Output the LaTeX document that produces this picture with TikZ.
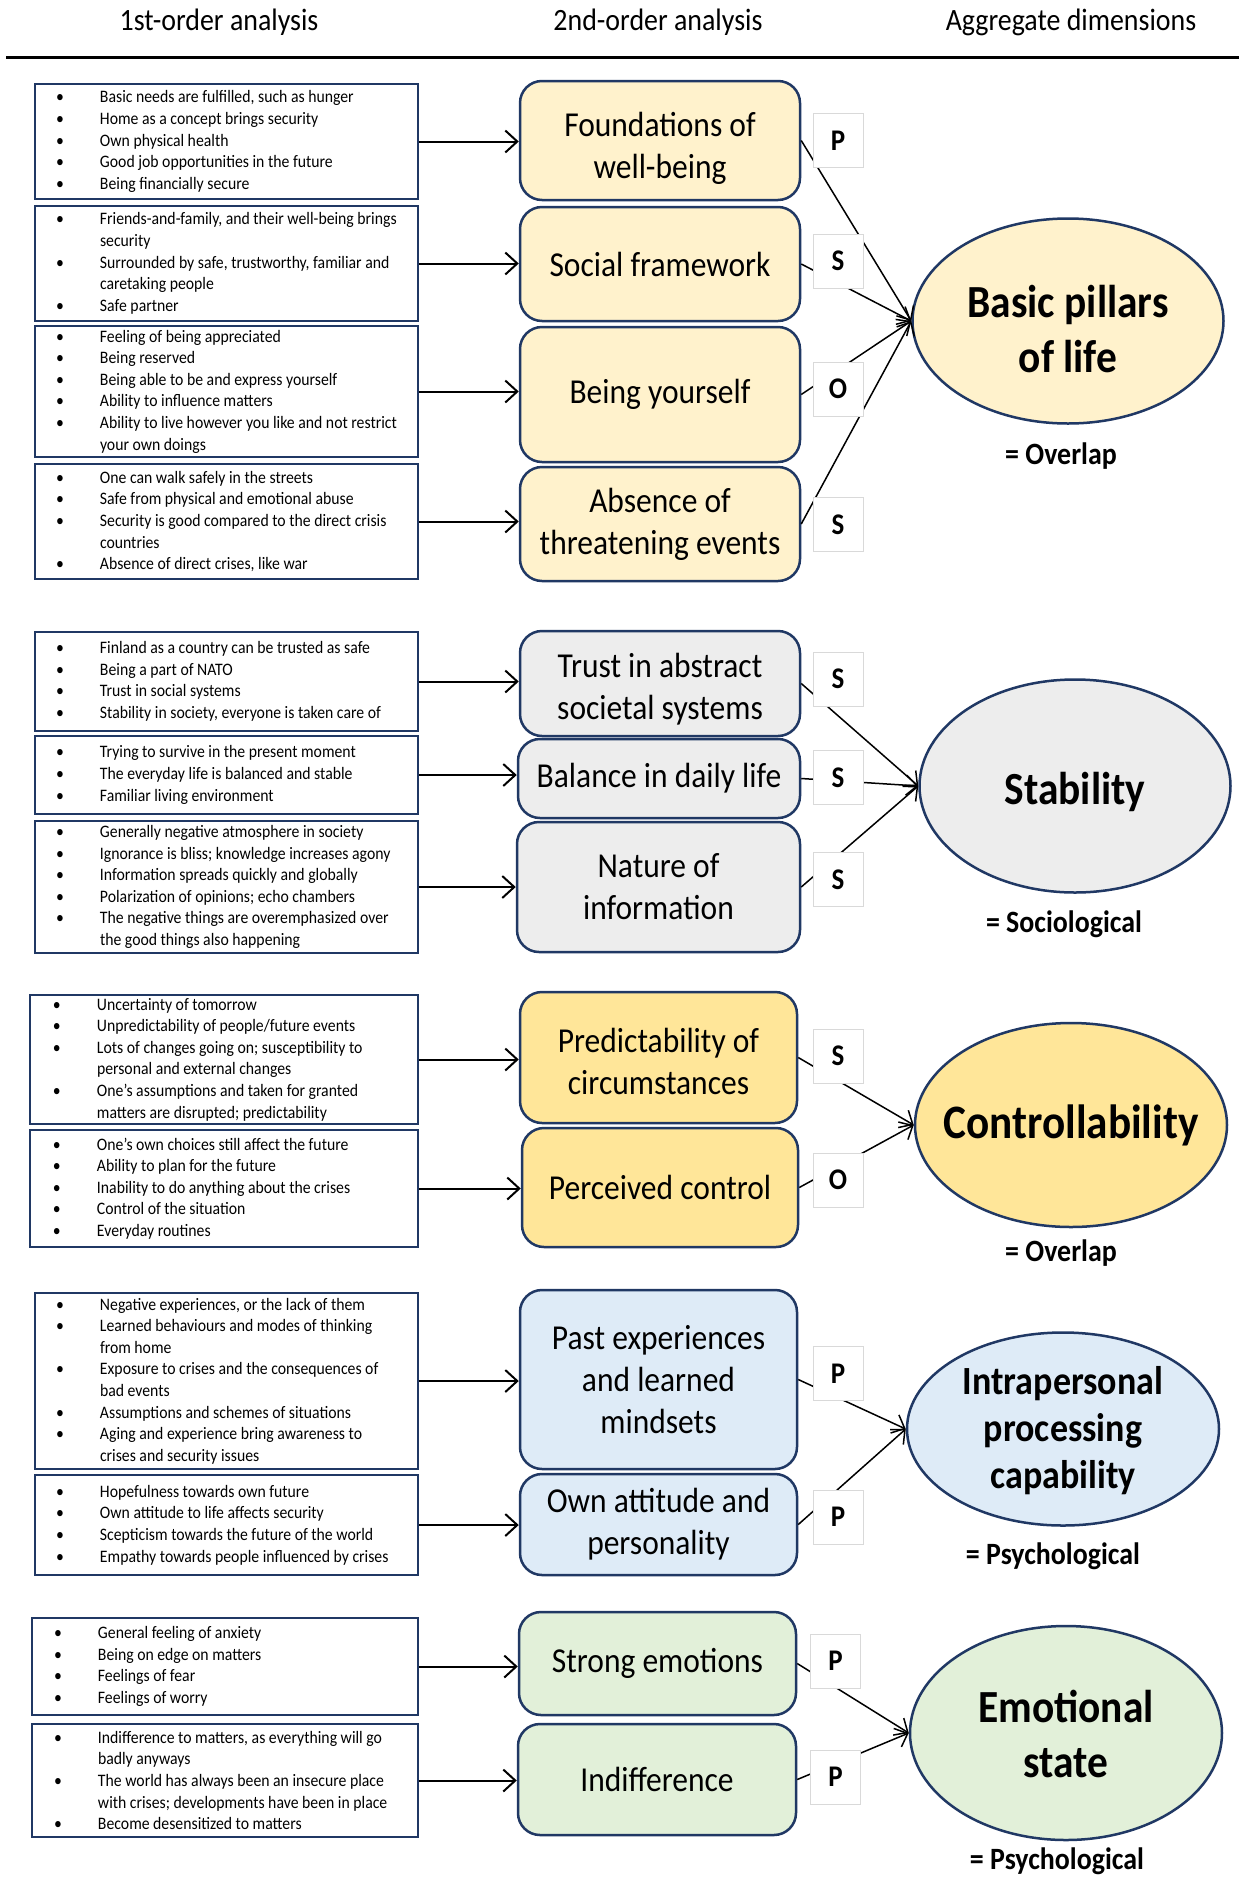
\documentclass[tikz,border=0pt]{standalone}
\usepackage{fontspec}
\setmainfont[FakeStretch=0.9]{Carlito}
\usetikzlibrary{arrows.meta,shapes.geometric}

\definecolor{navy}{HTML}{203864}
\definecolor{lettline}{HTML}{D9D9D9}
\definecolor{cbasic}{HTML}{FFF2CC}
\definecolor{cstab}{HTML}{EDEDED}
\definecolor{cctrl}{HTML}{FFE699}
\definecolor{cintra}{HTML}{DEEBF7}
\definecolor{cemo}{HTML}{E2F0D9}

% one bulleted entry of a first-order list (continuation lines hang under the text)
\newcommand\bi[1]{\par\noindent\hangindent=44pt\hangafter=1\makebox[44pt][l]{\textbullet}#1\par}
% a first-order list: left padding, width, entries
\newcommand\blist[3]{\hspace*{#1}\begin{minipage}{#2}\fontsize{17.5}{21.6}\selectfont\raggedright #3\end{minipage}}

\tikzset{
  lbox/.style={draw=navy, line width=2.5pt, fill=white, inner sep=0pt},
  mbox/.style={draw=navy, line width=2.5pt, rounded corners=22pt, align=center,
               inner sep=0pt, font=\fontsize{35}{42}\selectfont},
  mtext/.style={align=center, inner sep=0pt, font=\fontsize{35}{42}\selectfont},
  lettbox/.style={draw=lettline, line width=1pt, fill=white, inner sep=0pt,
                  minimum width=50pt, minimum height=54pt,
                  font=\bfseries\fontsize{30}{34}\selectfont},
  dimension/.style={ellipse, draw=navy, line width=2.5pt, inner sep=0pt},
  dimtext/.style={align=center, inner sep=0pt, font=\bfseries\fontsize{46}{55}\selectfont},
  feed/.style={-{Straight Barb[length=12pt,width=22pt]}, line width=2pt},
  joinline/.style={-{Straight Barb[length=11pt,width=20pt]}, line width=1.5pt},
  lab/.style={font=\bfseries\fontsize{31}{37}\selectfont, inner sep=0pt},
  head/.style={font=\fontsize{31}{37}\selectfont, inner sep=0pt},
}

\begin{document}
\begin{tikzpicture}[x=1pt, y=-1pt]
\fill[white] (0,0) rectangle (1239,1877);
\useasboundingbox (0,0) rectangle (1239,1877);

% column headings
\node[head] (h1) at (219,22) {1st-order analysis};
\node[head] (h2) at (658,22) {2nd-order analysis};
\node[head] (h3) at (1071,22) {Aggregate dimensions};
\coordinate (ruleL) at (6,57.5);
\coordinate (ruleR) at (1239,57.5);
\draw[line width=2.5pt] (ruleL) -- (ruleR);

% ---------------- Basic pillars of life ----------------
\node[lbox, minimum width=383pt, minimum height=115pt] (a1) at (226.5,141.5) {\blist{21pt}{362pt}{%
  \bi{Basic needs are fulfilled, such as hunger}
  \bi{Home as a concept brings security}
  \bi{Own physical health}
  \bi{Good job opportunities in the future}
  \bi{Being financially secure}}};
\node[lbox, minimum width=383pt, minimum height=115pt] (a2) at (226.5,263.5) {\blist{21pt}{362pt}{%
  \bi{Friends-and-family, and their well-being brings\newline security}
  \bi{Surrounded by safe, trustworthy, familiar and\newline caretaking people}
  \bi{Safe partner}}};
\node[lbox, minimum width=383pt, minimum height=131pt] (a3) at (226.5,391.5) {\blist{21pt}{362pt}{%
  \bi{Feeling of being appreciated}
  \bi{Being reserved}
  \bi{Being able to be and express yourself}
  \bi{Ability to influence matters}
  \bi{Ability to live however you like and not restrict\newline your own doings}}};
\node[lbox, minimum width=383pt, minimum height=115pt] (a4) at (226.5,521.5) {\blist{21pt}{362pt}{%
  \bi{One can walk safely in the streets}
  \bi{Safe from physical and emotional abuse}
  \bi{Security is good compared to the direct crisis\newline countries}
  \bi{Absence of direct crises, like war}}};

\node[mbox, fill=cbasic, minimum width=280pt, minimum height=119pt] (ma1) at (660,140.5) {};
\node[mtext] (ma1t) at (660,148.5) {Foundations of\\well-being};
\node[mbox, fill=cbasic, minimum width=280pt, minimum height=114pt] (ma2) at (660,264) {Social framework};
\node[mbox, fill=cbasic, minimum width=280pt, minimum height=135pt] (ma3) at (660,394.5) {Being yourself};
\node[mbox, fill=cbasic, minimum width=280pt, minimum height=114pt] (ma4) at (660,524) {Absence of\\threatening events};

\node[dimension, fill=cbasic, minimum width=311pt, minimum height=205pt] (ea) at (1068,321) {};
\node[dimtext] (eat) at (1068,329) {Basic pillars\\of life};
\node[lab] (la) at (1061,456) {= Overlap};

\foreach \i in {1,...,4} \draw[feed] (a\i.east) -- (a\i.east -| ma\i.west);
\foreach \i in {1,...,4} \draw[joinline] (ma\i.east) -- (ea.west);

\node[lettbox] (ka1) at (838,140.5) {P};
\node[lettbox] (ka2) at (838,261) {S};
\node[lettbox] (ka3) at (838,389) {O};
\node[lettbox] (ka4) at (838,524.5) {S};

% ---------------- Stability ----------------
\node[lbox, minimum width=383pt, minimum height=99pt] (b1) at (226.5,681.5) {\blist{21pt}{362pt}{%
  \bi{Finland as a country can be trusted as safe}
  \bi{Being a part of NATO}
  \bi{Trust in social systems}
  \bi{Stability in society, everyone is taken care of}}};
\node[lbox, minimum width=383pt, minimum height=78pt] (b2) at (226.5,775) {\blist{21pt}{362pt}{%
  \bi{Trying to survive in the present moment}
  \bi{The everyday life is balanced and stable}
  \bi{Familiar living environment}}};
\node[lbox, minimum width=383pt, minimum height=132pt] (b3) at (226.5,887) {\blist{21pt}{362pt}{%
  \bi{Generally negative atmosphere in society}
  \bi{Ignorance is bliss; knowledge increases agony}
  \bi{Information spreads quickly and globally}
  \bi{Polarization of opinions; echo chambers}
  \bi{The negative things are overemphasized over\newline the good things also happening}}};

\node[mbox, fill=cstab, minimum width=280pt, minimum height=105pt] (mb1) at (660,683.5) {};
\node[mtext] (mb1t) at (660,689.5) {Trust in abstract\\societal systems};
\node[mbox, fill=cstab, minimum width=282pt, minimum height=79pt] (mb2) at (659,778.5) {Balance in daily life};
\node[mbox, fill=cstab, minimum width=283pt, minimum height=130pt] (mb3) at (658.5,887) {Nature of\\information};

\node[dimension, fill=cstab, minimum width=311pt, minimum height=213pt] (eb) at (1075,786) {};
\node[dimtext] (ebt) at (1075,792) {Stability};
\node[lab] (lb) at (1064,924) {= Sociological};

\foreach \i in {1,...,3} \draw[feed] (b\i.east) -- (b\i.east -| mb\i.west);
\foreach \i in {1,...,3} \draw[joinline] (mb\i.east) -- (eb.west);

\node[lettbox] (kb1) at (838,679) {S};
\node[lettbox] (kb2) at (838,777.5) {S};
\node[lettbox] (kb3) at (838,879.5) {S};

% ---------------- Controllability ----------------
\node[lbox, minimum width=388pt, minimum height=129pt] (c1) at (224,1059.5) {\blist{23pt}{365pt}{%
  \bi{Uncertainty of tomorrow}
  \bi{Unpredictability of people/future events}
  \bi{Lots of changes going on; susceptibility to\newline personal and external changes}
  \bi{One’s assumptions and taken for granted\newline matters are disrupted; predictability}}};
\node[lbox, minimum width=388pt, minimum height=117pt] (c2) at (224,1188.5) {\blist{23pt}{365pt}{%
  \bi{One’s own choices still affect the future}
  \bi{Ability to plan for the future}
  \bi{Inability to do anything about the crises}
  \bi{Control of the situation}
  \bi{Everyday routines}}};

\node[mbox, fill=cctrl, minimum width=277pt, minimum height=131pt] (mc1) at (658.5,1057.5) {};
\node[mtext] (mc1t) at (658.5,1061.5) {Predictability of\\circumstances};
\node[mbox, fill=cctrl, minimum width=276pt, minimum height=119pt] (mc2) at (660,1187.5) {Perceived control};

\node[dimension, fill=cctrl, minimum width=312pt, minimum height=204pt] (ec) at (1071,1125) {};
\node[dimtext, font=\bfseries\fontsize{48}{55}\selectfont] (ect) at (1071,1125) {Controllability};
\node[lab] (lc) at (1061,1253) {= Overlap};

\foreach \i in {1,2} \draw[feed] (c\i.east) -- (c\i.east -| mc\i.west);
\foreach \i in {1,2} \draw[joinline] (mc\i.east) -- (ec.west);

\node[lettbox] (kc1) at (838,1056) {S};
\node[lettbox] (kc2) at (838,1180) {O};

% ---------------- Intrapersonal processing capability ----------------
\node[lbox, minimum width=383pt, minimum height=176pt] (d1) at (226.5,1381) {\blist{21pt}{362pt}{%
  \bi{Negative experiences, or the lack of them}
  \bi{Learned behaviours and modes of thinking\newline from home}
  \bi{Exposure to crises and the consequences of\newline bad events}
  \bi{Assumptions and schemes of situations}
  \bi{Aging and experience bring awareness to\newline crises and security issues}}};
\node[lbox, minimum width=383pt, minimum height=100pt] (d2) at (226.5,1525) {\blist{21pt}{362pt}{%
  \bi{Hopefulness towards own future}
  \bi{Own attitude to life affects security}
  \bi{Scepticism towards the future of the world}
  \bi{Empathy towards people influenced by crises}}};

\node[mbox, fill=cintra, minimum width=277pt, minimum height=179pt] (md1) at (658.5,1379.5) {Past experiences\\and learned\\mindsets};
\node[mbox, fill=cintra, minimum width=277pt, minimum height=101pt] (md2) at (658.5,1524.5) {Own attitude and\\personality};

\node[dimension, fill=cintra, minimum width=312pt, minimum height=193pt] (ed) at (1063,1429) {};
\node[dimtext, font=\bfseries\fontsize{40}{47}\selectfont] (edt) at (1063,1431) {Intrapersonal\\processing\\capability};
\node[lab] (ld) at (1053,1556) {= Psychological};

\foreach \i in {1,2} \draw[feed] (d\i.east) -- (d\i.east -| md\i.west);
\foreach \i in {1,2} \draw[joinline] (md\i.east) -- (ed.west);

\node[lettbox] (kd1) at (838,1373.5) {P};
\node[lettbox] (kd2) at (838,1517) {P};

% ---------------- Emotional state ----------------
\node[lbox, minimum width=386pt, minimum height=97pt] (e1) at (225,1666.5) {\blist{22pt}{364pt}{%
  \bi{General feeling of anxiety}
  \bi{Being on edge on matters}
  \bi{Feelings of fear}
  \bi{Feelings of worry}}};
\node[lbox, minimum width=386pt, minimum height=113pt] (e2) at (225,1780.5) {\blist{22pt}{364pt}{%
  \bi{Indifference to matters, as everything will go\newline badly anyways}
  \bi{The world has always been an insecure place\newline with crises; developments have been in place}
  \bi{Become desensitized to matters}}};

\node[mbox, fill=cemo, minimum width=277pt, minimum height=103pt] (me1) at (657.5,1663.5) {Strong emotions};
\node[mbox, fill=cemo, minimum width=278pt, minimum height=111pt] (me2) at (657,1779.5) {Indifference};

\node[dimension, fill=cemo, minimum width=312pt, minimum height=214pt] (ee) at (1066,1733) {};
\node[dimtext] (eet) at (1066,1734) {Emotional\\state};
\node[lab] (le) at (1057,1861) {= Psychological};

\foreach \i in {1,2} \draw[feed] (e\i.east) -- (e\i.east -| me\i.west);
\foreach \i in {1,2} \draw[joinline] (me\i.east) -- (ee.west);

\node[lettbox] (ke1) at (835.5,1661) {P};
\node[lettbox] (ke2) at (835.5,1777) {P};
\end{tikzpicture}
\end{document}
